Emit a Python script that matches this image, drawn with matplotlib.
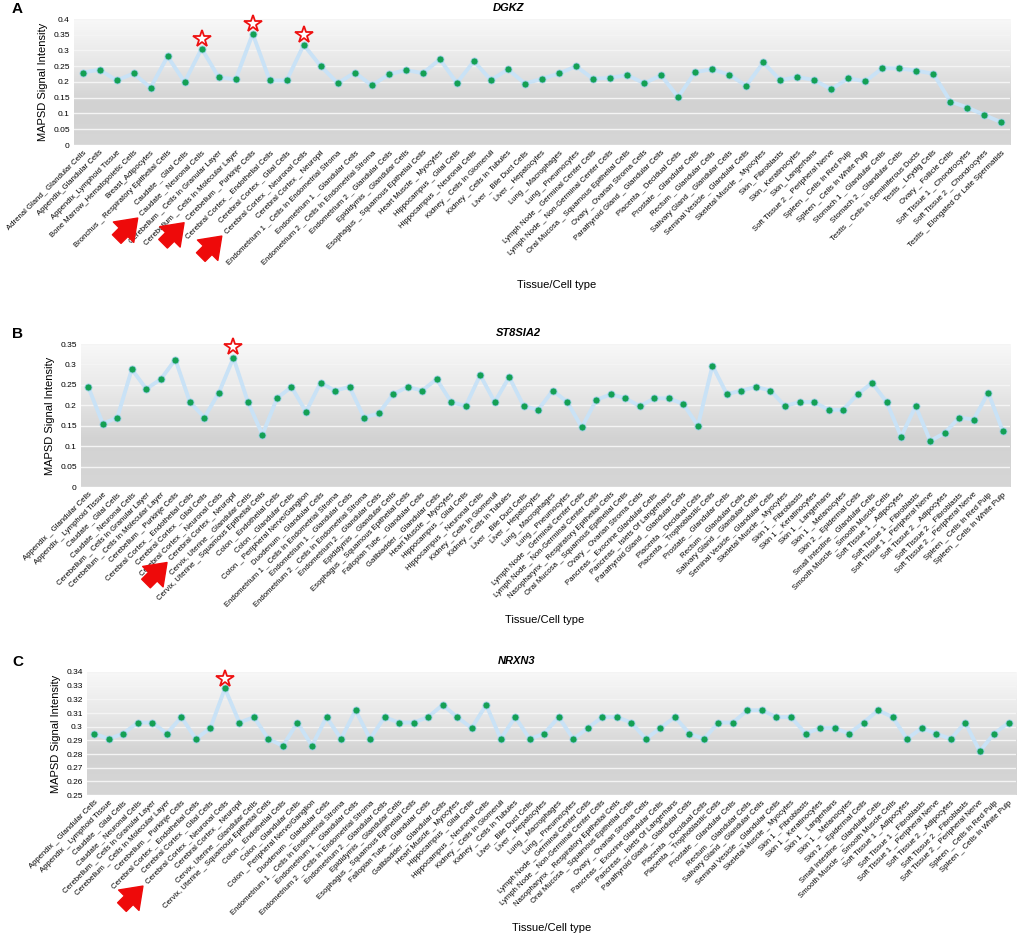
import numpy as np
import matplotlib
matplotlib.use("Agg")
import matplotlib.pyplot as plt
from matplotlib.colors import LinearSegmentedColormap

plt.rcParams['font.family'] = ['Liberation Sans', 'DejaVu Sans']

# ---- data ----
labels_a = [
    "Adrenal Gland_ Glandular Cells", "Appendix_Glandular Cells", "Appendix_Lymphoid Tissue",
    "Bone Marrow_Hematopoietic Cells", "Breast_Adipocytes", "Bronchus _ Respiratory Epithelial Cells",
    "Caudate _ Glial Cells", "Caudate _ Neuronal Cells", "Cerebellum _ Cells In Granular Layer",
    "Cerebellum _ Cells In Molecular Layer", "Cerebellum _ Purkinje Cells",
    "Cerebral Cortex _ Endothelial Cells", "Cerebral Cortex _ Glial Cells",
    "Cerebral Cortex _ Neuronal Cells", "Cerebral Cortex _ Neuropil",
    "Endometrium 1 _ Cells In Endometrial Stroma", "Endometrium 1 _ Glandular Cells",
    "Endometrium 2 _ Cells In Endometrial Stroma", "Endometrium 2 _ Glandular Cells",
    "Epididymis _ Glandular Cells", "Esophagus _ Squamous Epithelial Cells",
    "Heart Muscle _ Myocytes", "Hippocampus _ Glial Cells", "Hippocampus _ Neuronal Cells",
    "Kidney _ Cells In Glomeruli", "Kidney _ Cells In Tubules", "Liver _ Bile Duct Cells",
    "Liver _ Hepatocytes", "Lung _ Macrophages", "Lung _ Pneumocytes",
    "Lymph Node _ Germinal Center Cells", "Lymph Node _ Non-Germinal Center Cells",
    "Oral Mucosa _ Squamous Epithelial Cells", "Ovary _ Ovarian Stroma Cells",
    "Parathyroid Gland _ Glandular Cells", "Placenta _ Decidual Cells",
    "Prostate _ Glandular Cells", "Rectum _ Glandular Cells", "Salivary Gland _ Glandular Cells",
    "Seminal Vesicle _ Glandular Cells", "Skeletal Muscle _ Myocytes", "Skin_ Fibroblasts",
    "Skin_ Keratinocytes", "Skin_ Langerhans", "Soft Tissue 2 _ Peripheral Nerve",
    "Spleen _ Cells In Red Pulp", "Spleen _ Cells In White Pulp", "Stomach 1 _ Glandular Cells",
    "Stomach 2 _ Glandular Cells", "Testis _ Cells In Seminiferous Ducts", "Testis _ Leydig Cells",
    "Ovary _ Follicle Cells", "Soft Tissue 1 _ Chondrocytes", "Soft Tissue 2 _ Chondrocytes",
    "Testis _ Elongated Or Late Spermatids",
]
values_a = [
    0.230, 0.239, 0.205, 0.227, 0.182, 0.281, 0.200, 0.306, 0.215, 0.208,
    0.353, 0.205, 0.205, 0.318, 0.250, 0.196, 0.230, 0.189, 0.224, 0.238,
    0.228, 0.272, 0.197, 0.266, 0.206, 0.240, 0.195, 0.210, 0.227, 0.250,
    0.210, 0.213, 0.222, 0.196, 0.221, 0.152, 0.231, 0.241, 0.223, 0.188,
    0.262, 0.206, 0.216, 0.206, 0.177, 0.212, 0.202, 0.244, 0.243, 0.236,
    0.226, 0.138, 0.119, 0.095, 0.072,
]

labels_bc = [
    "Appendix _ Glandular Cells", "Appendix _ Lymphoid Tissue", "Caudate _ Glial Cells",
    "Caudate _ Neuronal Cells", "Cerebellum _ Cells In Granular Layer",
    "Cerebellum _ Cells In Molecular Layer", "Cerebellum _ Purkinje Cells",
    "Cerebral Cortex _ Endothelial Cells", "Cerebral Cortex _ Glial Cells",
    "Cerebral Cortex _ Neuronal Cells", "Cerebral Cortex _ Neuropil",
    "Cervix, Uterine _ Glandular Cells", "Cervix, Uterine _ Squamous Epithelial Cells",
    "Colon _ Endothelial Cells", "Colon _ Glandular Cells", "Colon _ Peripheral Nerve/Ganglion",
    "Duodenum _ Glandular Cells", "Endometrium 1 _ Cells In Endometrial Stroma",
    "Endometrium 1 _ Glandular Cells", "Endometrium 2 _ Cells In Endometrial Stroma",
    "Endometrium 2 _ Glandular Cells", "Epididymis _ Glandular Cells",
    "Esophagus _ Squamous Epithelial Cells", "Fallopian Tube _ Glandular Cells",
    "Gallbladder _ Glandular Cells", "Heart Muscle _ Myocytes", "Hippocampus _ Glial Cells",
    "Hippocampus _ Neuronal Cells", "Kidney _ Cells In Glomeruli", "Kidney _ Cells In Tubules",
    "Liver _ Bile Duct Cells", "Liver _ Hepatocytes", "Lung _ Macrophages", "Lung _ Pneumocytes",
    "Lymph Node _ Germinal Center Cells", "Lymph Node _ Non-Germinal Center Cells",
    "Nasopharynx _ Respiratory Epithelial Cells", "Oral Mucosa _ Squamous Epithelial Cells",
    "Ovary _ Ovarian Stroma Cells", "Pancreas _ Exocrine Glandular Cells",
    "Pancreas _ Islets Of Langerhans", "Parathyroid Gland _ Glandular Cells",
    "Placenta _ Decidual Cells", "Placenta _ Trophoblastic Cells", "Prostate _ Glandular Cells",
    "Rectum _ Glandular Cells", "Salivary Gland _ Glandular Cells",
    "Seminal Vesicle _ Glandular Cells", "Skeletal Muscle _ Myocytes", "Skin 1 _ Fibroblasts",
    "Skin 1 _ Keratinocytes", "Skin 1 _ Langerhans", "Skin 1 _ Melanocytes",
    "Skin 2 _ Epidermal Cells", "Small Intestine _ Glandular Cells",
    "Smooth Muscle _ Smooth Muscle Cells", "Soft Tissue 1 _ Adipocytes",
    "Soft Tissue 1 _ Fibroblasts", "Soft Tissue 1 _ Peripheral Nerve",
    "Soft Tissue 2 _ Adipocytes", "Soft Tissue 2 _ Fibroblasts",
    "Soft Tissue 2 _ Peripheral Nerve", "Spleen _ Cells In Red Pulp",
    "Spleen _ Cells In White Pulp",
]
values_b = [
    0.245, 0.155, 0.170, 0.288, 0.240, 0.264, 0.312, 0.208, 0.170, 0.231,
    0.316, 0.208, 0.128, 0.217, 0.245, 0.184, 0.255, 0.236, 0.245, 0.170,
    0.180, 0.227, 0.245, 0.236, 0.264, 0.208, 0.198, 0.274, 0.208, 0.269,
    0.198, 0.189, 0.236, 0.208, 0.146, 0.213, 0.227, 0.217, 0.198, 0.217,
    0.217, 0.203, 0.150, 0.297, 0.227, 0.236, 0.245, 0.236, 0.198, 0.208,
    0.208, 0.189, 0.189, 0.227, 0.255, 0.208, 0.123, 0.198, 0.113, 0.132,
    0.170, 0.165, 0.231, 0.137,
]
values_c = [
    0.295, 0.291, 0.295, 0.303, 0.303, 0.295, 0.307, 0.291, 0.299, 0.328,
    0.303, 0.307, 0.291, 0.286, 0.303, 0.286, 0.307, 0.291, 0.312, 0.291,
    0.307, 0.303, 0.303, 0.307, 0.316, 0.307, 0.299, 0.316, 0.291, 0.307,
    0.291, 0.295, 0.307, 0.291, 0.299, 0.307, 0.307, 0.303, 0.291, 0.299,
    0.307, 0.295, 0.291, 0.303, 0.303, 0.312, 0.312, 0.307, 0.307, 0.295,
    0.299, 0.299, 0.295, 0.303, 0.312, 0.307, 0.291, 0.299, 0.295, 0.291,
    0.303, 0.282, 0.295, 0.303,
]

# starred points and the tick labels the red arrows point at
stars_a = [7, 10, 13]
arrows_a = [7, 10, 13]
stars_b = [10]
arrows_b = [10]
stars_c = [9]
arrows_c = [9]

fig = plt.figure(figsize=(10.21, 9.38), dpi=100)
W, H = 1021, 938

bg = LinearSegmentedColormap.from_list("bg", ["#f8f8f8", "#e8e8e8", "#d2d2d2", "#d6d6d6"])
axes = []


def panel(rect, labels, vals, ylim, step, gene, title_x, letter, stars, arrows, xlab):
    l, t, r, b = rect
    ax = fig.add_axes([l / W, 1 - b / H, (r - l) / W, (b - t) / H])
    x = np.arange(len(vals))
    grad = np.linspace(0, 1, 256).reshape(-1, 1)
    ax.imshow(grad, cmap=bg, aspect='auto', extent=[-0.5, len(vals) - 0.5, ylim[0], ylim[1]],
              origin='upper', zorder=0)
    ticks = np.arange(ylim[0], ylim[1] + step / 2, step)
    for yv in ticks:
        ax.axhline(yv, color='#f4f4f4', lw=1.0, zorder=1)
    ax.plot(x, vals, color='#c9e2f6', lw=2.8, zorder=2)
    ax.scatter(x, vals, s=26, color='#14a054', edgecolors='#9fd0e8', linewidths=0.6, zorder=3)
    span = ylim[1] - ylim[0]
    for i in stars:
        ax.plot(i, vals[i] + span * 0.075, marker='*', ms=13, mfc='white', mec='#ee1111',
                mew=1.3, zorder=4, clip_on=False)
    ax.set_xlim(-0.5, len(vals) - 0.5)
    ax.set_ylim(*ylim)
    ax.set_yticks(ticks)
    ax.set_yticklabels([("%.2f" % v).rstrip('0').rstrip('.') or "0" for v in ticks], fontsize=6)
    ax.set_xticks(x)
    ax.set_xticklabels(labels, rotation=45, ha='right', rotation_mode='anchor', fontsize=5.6)
    ax.tick_params(length=0, pad=3)
    for s in ax.spines.values():
        s.set_visible(False)
    ax.set_ylabel("MAPSD Signal Intensity", fontsize=8, labelpad=4)
    fig.text(title_x / W, 1 - (t - 11) / H, gene, fontsize=8, fontweight='bold', style='italic',
             ha='center', va='center')
    fig.text(12 / W, 1 - (t - 10) / H, letter, fontsize=11, fontweight='bold', va='center')
    fig.text(xlab[0] / W, 1 - xlab[1] / H, "Tissue/Cell type", fontsize=8, ha='center', va='center')
    axes.append((ax, arrows))


panel((74, 19, 1010, 145), labels_a, values_a, (0, 0.4), 0.05, "DGKZ", 508, "A",
      stars_a, arrows_a, (557, 285))
panel((81, 344, 1010, 487), labels_bc, values_b, (0, 0.35), 0.05, "ST8SIA2", 518, "B",
      stars_b, arrows_b, (545, 620))
panel((87, 672, 1016, 795), labels_bc, values_c, (0.25, 0.34), 0.01, "NRXN3", 517, "C",
      stars_c, arrows_c, (552, 928))

# red arrows pointing at the start of the highlighted tick labels
fig.canvas.draw()
for ax, arrows in axes:
    tls = ax.get_xticklabels()
    for i in arrows:
        bb = tls[i].get_window_extent()
        tip = (bb.x0 - 1, bb.y0 - 1)
        fig.patches.append(plt.matplotlib.patches.FancyArrowPatch(
            (tip[0] - 21, tip[1] - 21), tip, transform=None,
            arrowstyle='simple,head_length=0.9,head_width=1.3,tail_width=0.55',
            color='#ee0a0a', mutation_scale=16, shrinkA=0, shrinkB=0))

fig.savefig("out.png", dpi=100, facecolor='white')
